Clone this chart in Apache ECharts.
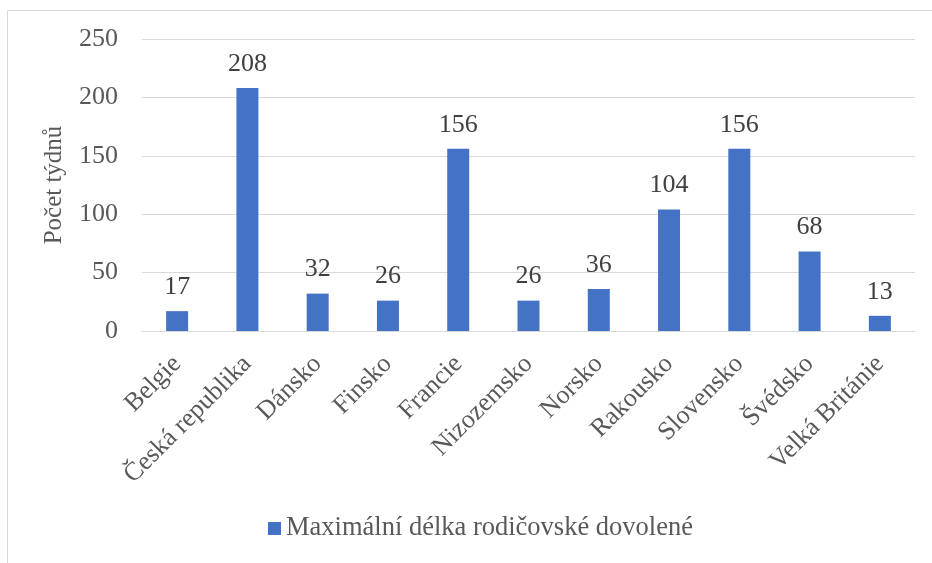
<!DOCTYPE html>
<html>
<head>
<meta charset="utf-8">
<script src="https://cdn.jsdelivr.net/npm/echarts@6/dist/echarts.min.js"></script>
<style>
  html, body { margin: 0; padding: 0; background: #fff; }
  #chart { width: 932px; height: 563px; }
</style>
</head>
<body>
<div id="chart"></div>
<script>
// Maximum parental leave length by country (weeks)
const categories = ['Belgie', 'Česká republika', 'Dánsko', 'Finsko', 'Francie', 'Nizozemsko', 'Norsko', 'Rakousko', 'Slovensko', 'Švédsko', 'Velká Británie'];
const weeks = [17, 208, 32, 26, 156, 26, 36, 104, 156, 68, 13];
const seriesName = 'Maximální délka rodičovské dovolené';
const yAxisTitle = 'Počet týdnů';

const serif = '"Liberation Serif", "Times New Roman", serif';
const chart = echarts.init(document.getElementById('chart'), null, { renderer: 'canvas' });

chart.setOption({
  animation: false,
  backgroundColor: '#ffffff',
  graphic: [{
    type: 'rect',
    shape: { x: 7.5, y: 10.5, width: 940, height: 600 },
    style: { fill: 'none', stroke: '#d9d9d9', lineWidth: 1 },
    silent: true
  }],
  grid: { left: 142, right: 17, top: 39, bottom: 232, containLabel: false },
  legend: {
    bottom: 16,
    left: 263,
    itemWidth: 13,
    itemHeight: 13,
    itemGap: 6,
    icon: 'rect',
    textStyle: { fontFamily: serif, fontSize: 26.5, color: '#595959' },
    data: [seriesName]
  },
  xAxis: {
    type: 'category',
    data: categories,
    axisLine: { lineStyle: { color: '#d9d9d9', width: 1 } },
    axisTick: { show: false },
    axisLabel: {
      rotate: 45,
      interval: 0,
      margin: 29,
      fontFamily: serif,
      fontSize: 26,
      color: '#595959'
    }
  },
  yAxis: {
    type: 'value',
    min: 0,
    max: 250,
    interval: 50,
    name: yAxisTitle,
    nameLocation: 'middle',
    nameGap: 75,
    nameTextStyle: { fontFamily: serif, fontSize: 25, color: '#595959' },
    axisLine: { show: false },
    axisTick: { show: false },
    axisLabel: { fontFamily: serif, fontSize: 26, color: '#595959', margin: 24 },
    splitLine: { lineStyle: { color: '#d9d9d9', width: 1 } }
  },
  series: [{
    name: seriesName,
    type: 'bar',
    data: weeks,
    barWidth: 22,
    itemStyle: { color: '#4472C4' },
    label: {
      show: true,
      position: 'top',
      distance: 11,
      fontFamily: serif,
      fontSize: 26,
      color: '#404040'
    }
  }]
});
</script>
</body>
</html>
